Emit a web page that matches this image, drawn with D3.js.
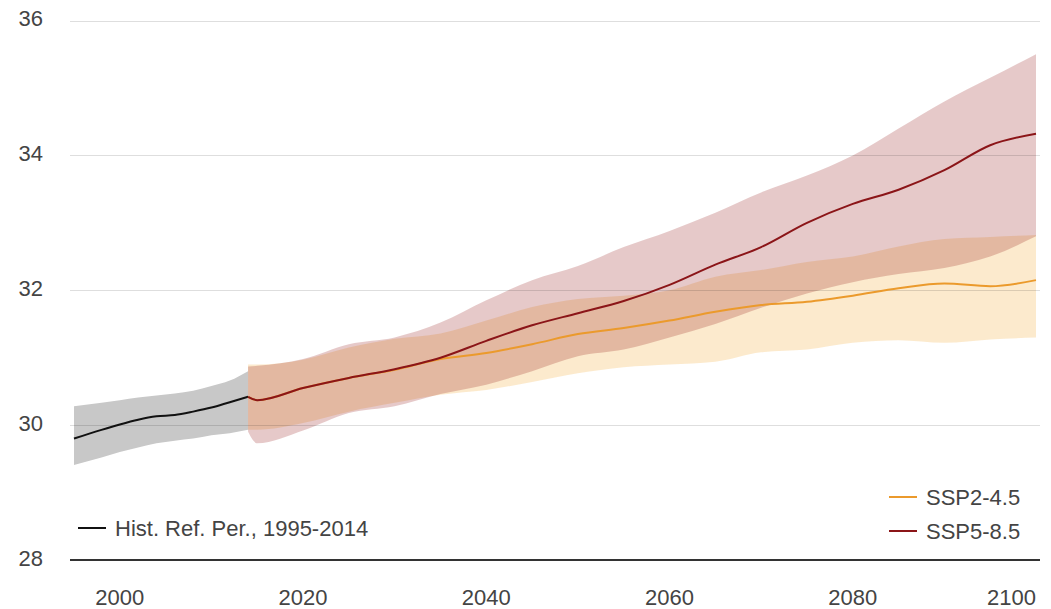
<!DOCTYPE html>
<html>
<head>
<meta charset="utf-8">
<script src="https://cdn.jsdelivr.net/npm/d3@7"></script>
<style>
  html, body { margin: 0; padding: 0; background: #fff; }
  svg { display: block; font-family: "Liberation Sans", Arial, sans-serif; }
</style>
</head>
<body>
<svg id="chart" width="1051" height="609"></svg>
<script>
// ---- Data ----
const yTicks = [28, 30, 32, 34, 36];
const xTicks = [2000, 2020, 2040, 2060, 2080, 2100];

const histYears = [1995, 1998, 2000, 2002, 2004, 2006, 2008, 2010, 2012, 2014];
const histMean  = [29.80, 29.93, 30.01, 30.08, 30.13, 30.15, 30.20, 30.26, 30.34, 30.42];
const histUpper = [30.28, 30.33, 30.37, 30.41, 30.44, 30.47, 30.51, 30.58, 30.66, 30.80];
const histLower = [29.41, 29.52, 29.60, 29.67, 29.73, 29.77, 29.80, 29.85, 29.88, 29.93];

const projYears = [2014, 2015, 2020, 2025, 2030, 2035, 2040, 2045, 2050, 2055, 2060, 2065, 2070, 2075, 2080, 2085, 2090, 2095, 2100];
const ssp2Mean  = [30.42, 30.37, 30.55, 30.70, 30.82, 30.98, 31.07, 31.20, 31.35, 31.44, 31.55, 31.68, 31.78, 31.83, 31.92, 32.03, 32.10, 32.06, 32.15];
const ssp2Upper = [30.90, 30.90, 30.97, 31.15, 31.28, 31.36, 31.55, 31.75, 31.87, 31.92, 32.00, 32.20, 32.30, 32.42, 32.50, 32.65, 32.76, 32.79, 32.82];
const ssp2Lower = [29.93, 29.93, 30.03, 30.20, 30.33, 30.45, 30.52, 30.64, 30.77, 30.86, 30.90, 30.94, 31.08, 31.12, 31.22, 31.26, 31.22, 31.27, 31.30];
const ssp5Mean  = [30.42, 30.37, 30.55, 30.70, 30.83, 31.00, 31.25, 31.48, 31.66, 31.84, 32.08, 32.38, 32.64, 33.00, 33.28, 33.49, 33.78, 34.15, 34.32];
const ssp5Upper = [30.87, 30.88, 30.98, 31.20, 31.30, 31.52, 31.85, 32.15, 32.36, 32.64, 32.88, 33.15, 33.45, 33.70, 34.00, 34.40, 34.80, 35.15, 35.50];
const ssp5Lower = [29.90, 29.73, 29.92, 30.18, 30.28, 30.46, 30.60, 30.80, 31.02, 31.12, 31.30, 31.50, 31.74, 31.95, 32.12, 32.24, 32.33, 32.50, 32.80];

const legendLabels = { hist: "Hist. Ref. Per., 1995-2014", ssp2: "SSP2-4.5", ssp5: "SSP5-8.5" };

// ---- Setup ----
const svg = d3.select("#chart");
const gridLeft = 70, gridRight = 1040;
const x = d3.scaleLinear().domain([1995, 2100]).range([74, 1036]);
const y = d3.scaleLinear().domain([28, 36]).range([560, 20.5]);

const mk = (years, mean, lo, hi) => years.map((yr, i) => ({ yr, m: mean[i], lo: lo[i], hi: hi[i] }));
const hist = mk(histYears, histMean, histLower, histUpper);
const ssp2 = mk(projYears, ssp2Mean, ssp2Lower, ssp2Upper);
const ssp5 = mk(projYears, ssp5Mean, ssp5Lower, ssp5Upper);

const curve = d3.curveMonotoneX;
const area = d3.area().x(d => x(d.yr)).y0(d => y(d.lo)).y1(d => y(d.hi)).curve(curve);
const line = d3.line().x(d => x(d.yr)).y(d => y(d.m)).curve(curve);

// Bands
svg.append("path").datum(hist).attr("d", area).attr("fill", "#c8c8c8");
svg.append("path").datum(ssp2).attr("d", area).attr("fill", "rgb(243,156,18)").attr("fill-opacity", 0.21);
svg.append("path").datum(ssp5).attr("d", area).attr("fill", "rgb(139,0,0)").attr("fill-opacity", 0.21);

// Gridlines (on top of bands)
svg.append("g").selectAll("line").data(yTicks.filter(t => t > 28)).join("line")
  .attr("x1", gridLeft).attr("x2", gridRight)
  .attr("y1", d => Math.round(y(d)) + 0.5).attr("y2", d => Math.round(y(d)) + 0.5)
  .attr("stroke", "#000").attr("stroke-opacity", 0.13).attr("stroke-width", 1);

// Lines
svg.append("path").datum(hist).attr("d", line).attr("fill", "none").attr("stroke", "#111").attr("stroke-width", 2);
svg.append("path").datum(ssp2).attr("d", line).attr("fill", "none").attr("stroke", "#eb9a2c").attr("stroke-width", 2);
svg.append("path").datum(ssp5).attr("d", line).attr("fill", "none").attr("stroke", "#8b1518").attr("stroke-width", 2);

// Baseline axis
svg.append("line").attr("x1", gridLeft).attr("x2", gridRight)
  .attr("y1", y(28)).attr("y2", y(28)).attr("stroke", "#333").attr("stroke-width", 2);

// Y labels
svg.append("g").selectAll("text").data(yTicks).join("text")
  .attr("x", 43).attr("y", d => y(d) - 2).attr("dy", "0.35em")
  .attr("text-anchor", "end").attr("font-size", 22).attr("fill", "#444")
  .text(d => d);

// X labels
svg.append("g").selectAll("text").data(xTicks).join("text")
  .attr("x", (d, i) => i === xTicks.length - 1 ? 1036 : x(d))
  .attr("y", 605)
  .attr("text-anchor", (d, i) => i === xTicks.length - 1 ? "end" : "middle")
  .attr("font-size", 22).attr("fill", "#444")
  .text(d => d);

// Legends
function legendItem(x0, yc, color, label) {
  svg.append("line").attr("x1", x0).attr("x2", x0 + 28).attr("y1", yc).attr("y2", yc)
    .attr("stroke", color).attr("stroke-width", 2);
  svg.append("text").attr("x", x0 + 37).attr("y", yc).attr("dy", "0.35em")
    .attr("font-size", 22).attr("fill", "#444").text(label);
}
legendItem(78, 528, "#111", legendLabels.hist);
legendItem(889, 497, "#eb9a2c", legendLabels.ssp2);
legendItem(889, 531, "#8b1518", legendLabels.ssp5);
</script>
</body>
</html>
